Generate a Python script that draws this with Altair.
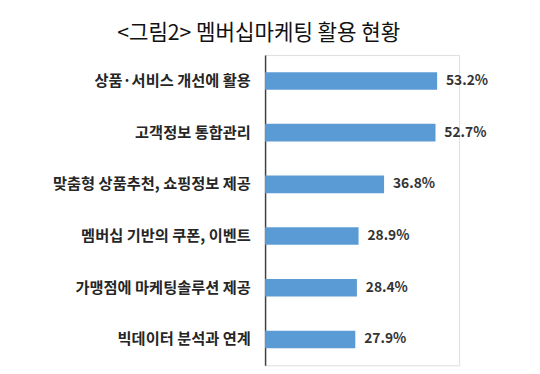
import altair as alt
import pandas as pd

categories = [
    "상품·서비스 개선에 활용",
    "고객정보 통합관리",
    "맞춤형 상품추천, 쇼핑정보 제공",
    "멤버십 기반의 쿠폰, 이벤트",
    "가맹점에 마케팅솔루션 제공",
    "빅데이터 분석과 연계",
]
values = [53.2, 52.7, 36.8, 28.9, 28.4, 27.9]
value_labels = ["53.2%", "52.7%", "36.8%", "28.9%", "28.4%", "27.9%"]

df = pd.DataFrame({"cat": categories, "val": values, "lab": value_labels})

FONT = "Noto Sans CJK KR"

y_enc = alt.Y(
    "cat:N",
    sort=categories,
    scale=alt.Scale(paddingInner=0.66, paddingOuter=0.33),
    axis=alt.Axis(
        title=None,
        ticks=False,
        grid=False,
        domain=True,
        domainColor="#404040",
        domainWidth=1.5,
        labelPadding=15,
        labelFont=FONT,
        labelFontSize=15.5,
        labelFontWeight="bold",
        labelColor="#262626",
        labelLimit=300,
    ),
)
x_enc = alt.X(
    "val:Q",
    scale=alt.Scale(domain=[0, 60], nice=False, zero=True),
    axis=None,
)

bars = alt.Chart(df).mark_bar(color="#5B9BD5").encode(x=x_enc, y=y_enc)
text = alt.Chart(df).mark_text(
    align="left", baseline="middle", dx=9, font=FONT, fontSize=14,
    fontWeight="bold", color="#333333"
).encode(x=x_enc, y=y_enc, text="lab:N")

chart = (
    alt.layer(bars, text)
    .properties(
        width=197,
        height=315,
        autosize=alt.AutoSizeParams(type="none"),
        padding={"left": 261, "top": 45, "right": 74, "bottom": 6},
        title=alt.TitleParams(
            "<그림2> 멤버십마케팅 활용 현황",
            font=FONT,
            fontSize=21.5,
            fontWeight="normal",
            color="#111111",
            anchor="middle",
            frame="group",
            dx=-105,
            offset=11,
        ),
    )
    .configure_view(stroke=None)
    .configure(background="white")
)

chart.save("out.html", embed_options={"renderer": "svg", "actions": False})
